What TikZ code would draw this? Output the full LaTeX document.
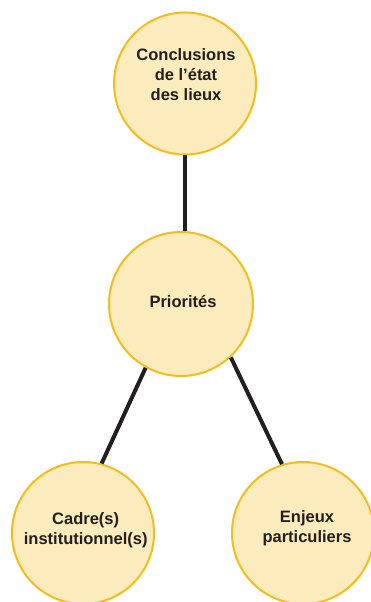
\documentclass[tikz,border=0pt]{standalone}
\usepackage{fontspec}
\setmainfont{Liberation Sans}
\definecolor{circfill}{HTML}{FCEBBD}
\definecolor{circdraw}{HTML}{F3BD1C}
\definecolor{ink}{HTML}{231F20}
\begin{document}
\begin{tikzpicture}[x=1pt,y=1pt,
  circ/.style={circle,draw=circdraw,fill=circfill,line width=2pt,inner sep=0pt,minimum size=142pt},
  lbl/.style={align=center,text=ink,font=\fontsize{16.5}{20}\selectfont\bfseries,inner sep=0pt},
  conn/.style={draw=ink,line width=4pt}]
\useasboundingbox (0,0) rectangle (371,602);
\node[circ] (top) at (185,518.5) {};
\node[circ,minimum size=144pt] (mid) at (181,298) {};
\node[circ] (bl) at (83,69) {};
\node[circ] (br) at (303,69) {};
\draw[conn] (top.south) -- (top.south |- mid.north);
\draw[conn] (mid.241.8) -- (bl.75.3);
\draw[conn] (mid.313.2) -- (br.107.6);
\node[lbl] (ttop) at (186,527.5) {Conclusions\\de l’état\\des lieux};
\node[lbl,anchor=base] (tmid) at (183,294.3) {Priorités};
\node[lbl] (tbl) at (85.7,72) {Cadre(s)\\institutionnel(s)};
\node[lbl] (tbr) at (307,74) {Enjeux\\particuliers};
\end{tikzpicture}
\end{document}
